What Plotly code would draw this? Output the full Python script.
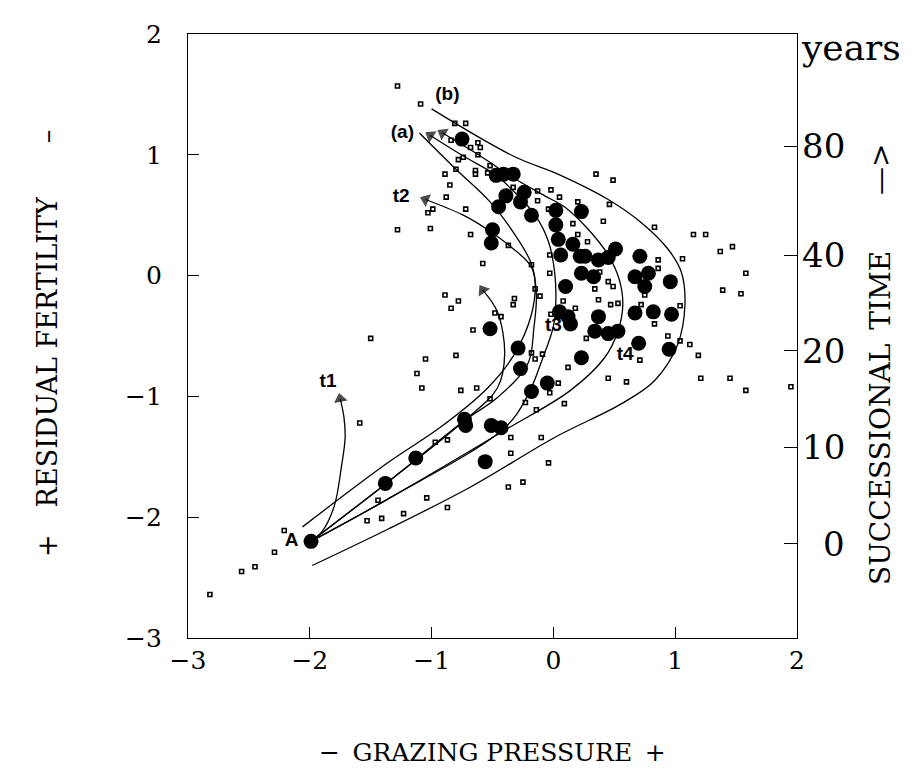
import plotly.graph_objects as go

# ---------------- data ----------------
# large filled circles (relevés)
big_x = [-1.99, -1.38, -1.13, -0.73, -0.72, -0.56, -0.51, -0.43, -0.29, -0.27, -0.18, -0.05, -0.52,
         -0.75, -0.47, -0.41, -0.33, -0.39, -0.45, -0.24, -0.27, -0.18, -0.50, -0.51,
         0.02, 0.02, 0.04, 0.23, 0.16, 0.06, 0.22, 0.26, 0.37, 0.45, 0.51, 0.71,
         0.23, 0.33, 0.67, 0.78, 0.75, 0.96, 0.10, 0.05, 0.12, 0.14, 0.37, 0.34,
         0.45, 0.53, 0.67, 0.82, 0.97, 0.70, 0.95, 0.23]
big_y = [-2.20, -1.72, -1.51, -1.19, -1.24, -1.54, -1.24, -1.26, -0.60, -0.77, -0.96, -0.89, -0.44,
         1.13, 0.83, 0.84, 0.84, 0.66, 0.57, 0.69, 0.61, 0.50, 0.38, 0.27,
         0.54, 0.42, 0.30, 0.53, 0.26, 0.17, 0.16, 0.16, 0.13, 0.15, 0.22, 0.16,
         0.02, -0.01, -0.01, 0.02, -0.09, -0.05, -0.09, -0.30, -0.34, -0.40, -0.34, -0.46,
         -0.48, -0.46, -0.31, -0.30, -0.32, -0.56, -0.61, -0.68]

# small squares
small_x = [-1.28, -1.09, -0.81, -0.72, -0.84, -0.62, -0.60, -0.68, -0.74, -0.62, -0.78, -0.52, -0.64,
           -0.80, -0.64, -0.89, -0.54, -0.85, -0.88, -0.99, -1.03, -0.72, -1.28, -1.01, -0.68, -0.58,
           -0.37, -0.33, -0.13, -0.13, -0.02, -0.04, -0.18, -0.03, -0.15, 0.35, 0.49, 0.05, 0.20,
           0.46, 0.16, 0.41, 0.83, 1.15, 1.25, 0.28, 0.20, 1.37, 1.47, -0.03, 0.86, 1.06, 1.58,
           0.86, 0.38, 0.45, 0.49, 0.34, 1.39, 1.54, 0.08, 0.37, 0.53, 0.47, 0.72, -0.32, -0.11,
           -0.33, 0.18, -0.02, 0.75, 1.04, 0.83, 0.27, 0.94, 1.04, 1.12, 1.19, 0.71, 0.12, -0.09,
           -0.15, -0.18, 0.04, 0.45, 0.60, 1.21, 1.45, 1.58, 1.95, -0.03, -0.23, 0.09, -0.14,
           -0.89, -0.78, -0.84, -0.48, -0.43, -0.66, -0.80, -1.05, -1.12, -1.08, -0.76, -0.63,
           -0.52, -0.97, -0.87, -0.35, -0.35, -0.10, -0.04, -0.37, -0.25, -1.04, -0.87, -1.23,
           -1.50, -1.59, -1.44, -1.41, -1.53, -2.21, -2.29, -2.45, -2.56, -2.82]
small_y = [1.57, 1.42, 1.26, 1.26, 1.12, 1.10, 1.06, 1.06, 0.98, 1.00, 0.96, 0.91, 0.87,
           0.88, 0.84, 0.84, 0.85, 0.75, 0.65, 0.55, 0.52, 0.55, 0.38, 0.39, 0.34, 0.10,
           0.25, 0.73, 0.70, 0.62, 0.71, 0.55, 0.09, 0.02, -0.11, 0.84, 0.79, 0.65, 0.61,
           0.59, 0.43, 0.45, 0.40, 0.34, 0.34, 0.28, 0.34, 0.20, 0.24, 0.17, 0.13, 0.14, 0.02,
           0.06, 0.03, -0.05, -0.09, -0.11, -0.12, -0.15, -0.21, -0.20, -0.23, -0.24, -0.24, -0.19, -0.17,
           -0.24, -0.27, -0.32, -0.16, -0.25, -0.40, -0.52, -0.50, -0.54, -0.57, -0.66, -0.70, -0.76, -0.65,
           -0.69, -0.64, -0.89, -0.85, -0.88, -0.85, -0.85, -0.95, -0.92, -0.97, -1.05, -1.06, -1.11,
           -0.16, -0.21, -0.27, -0.31, -0.34, -0.45, -0.66, -0.69, -0.81, -0.93, -0.95, -0.93,
           -1.02, -1.38, -1.36, -1.34, -1.47, -1.34, -1.55, -1.75, -1.71, -1.84, -1.92, -1.97,
           -0.52, -1.22, -1.86, -2.01, -2.03, -2.11, -2.29, -2.41, -2.45, -2.64]

# envelope curves
env_inner_x = [-2.06, -1.36, -0.92, -0.54, -0.32, -0.18, -0.15, -0.19, -0.33, -0.52, -0.80, -1.10]
env_inner_y = [-2.08, -1.55, -1.25, -0.93, -0.65, -0.32, -0.05, 0.12, 0.36, 0.61, 0.88, 1.18]
env_outer_x = [-1.98, -1.36, -0.68, 0.01, 0.56, 0.83, 1.02, 1.08, 1.05, 0.94, 0.72, 0.45, 0.06, -0.33, -1.00]
env_outer_y = [-2.40, -2.10, -1.75, -1.34, -1.06, -0.87, -0.57, -0.24, 0.03, 0.22, 0.44, 0.63, 0.83, 0.99, 1.38]

# successional trajectories starting at A
traj_c1_x = [-1.99, -1.36, -0.73, -0.46, -0.40, -0.46, -0.58]
traj_c1_y = [-2.20, -1.71, -1.20, -0.93, -0.65, -0.30, -0.12]
traj_t1_x = [-1.99, -1.90, -1.80, -1.74, -1.71, -1.72, -1.75]
traj_t1_y = [-2.20, -2.12, -1.91, -1.58, -1.34, -1.17, -1.02]
traj_t2_x = [-1.99, -1.36, -0.73, -0.46, -0.21, -0.16, -0.14, -0.18, -0.34, -0.54, -0.74, -1.05]
traj_t2_y = [-2.20, -1.71, -1.20, -1.01, -0.73, -0.43, -0.16, 0.07, 0.23, 0.38, 0.50, 0.63]
traj_t3_x = [-1.99, -1.36, -0.40, -0.21, -0.09, 0.00, 0.02, 0.01, -0.04, -0.15, -0.33, -0.47, -0.74, -1.01]
traj_t3_y = [-2.20, -1.85, -1.26, -0.99, -0.69, -0.42, -0.21, 0.03, 0.28, 0.50, 0.70, 0.83, 0.99, 1.16]
traj_t4_x = [-1.99, -1.36, -0.40, 0.14, 0.42, 0.53, 0.57, 0.54, 0.45, 0.28, 0.09, -0.07, -0.33, -0.60, -0.91]
traj_t4_y = [-2.20, -1.85, -1.28, -0.95, -0.68, -0.46, -0.24, -0.03, 0.17, 0.39, 0.57, 0.66, 0.81, 0.99, 1.18]

# text labels in the plot
label_text = ["A", "t1", "t2", "t3", "t4", "(a)", "(b)"]
label_x = [-2.15, -1.85, -1.25, 0.00, 0.59, -1.24, -0.87]
label_y = [-2.20, -0.88, 0.65, -0.42, -0.66, 1.18, 1.49]

# axes
xy_ticks = [-3, -2, -1, 0, 1, 2]
time_tick_text = ["80", "40", "20", "10", "0"]
time_tick_pos = [1.07, 0.17, -0.62, -1.42, -2.22]

SERIF = "DejaVu Serif"
SANS = "Liberation Sans"

fig = go.Figure()

line_style = dict(color="black", width=1.3, shape="spline", smoothing=1.0)

for xs, ys in [(env_inner_x, env_inner_y), (env_outer_x, env_outer_y)]:
    fig.add_trace(go.Scatter(x=xs, y=ys, mode="lines", line=line_style,
                             showlegend=False, hoverinfo="skip"))

for xs, ys in [(traj_c1_x, traj_c1_y), (traj_t1_x, traj_t1_y), (traj_t2_x, traj_t2_y),
               (traj_t3_x, traj_t3_y), (traj_t4_x, traj_t4_y)]:
    n = len(xs)
    fig.add_trace(go.Scatter(
        x=xs, y=ys, mode="lines+markers", line=line_style,
        marker=dict(symbol="triangle-up", angleref="previous",
                    size=[0] * (n - 1) + [12], color="black", line=dict(width=0)),
        showlegend=False, hoverinfo="skip"))

fig.add_trace(go.Scatter(x=small_x, y=small_y, mode="markers",
                         marker=dict(symbol="square-open", size=4, color="black",
                                     line=dict(width=1.6, color="black")),
                         showlegend=False, hoverinfo="skip"))

fig.add_trace(go.Scatter(x=big_x, y=big_y, mode="markers",
                         marker=dict(symbol="circle", size=15, color="black",
                                     line=dict(width=0)),
                         showlegend=False, hoverinfo="skip"))

fig.add_trace(go.Scatter(x=label_x, y=label_y, mode="text", text=label_text,
                         textfont=dict(family=SANS, size=19, color="black"),
                         texttemplate="<b>%{text}</b>",
                         showlegend=False, hoverinfo="skip"))

# right axis (successional time) - tick marks only; labels as right-aligned annotations
fig.add_trace(go.Scatter(x=[None], y=[None], yaxis="y2", showlegend=False, hoverinfo="skip"))

fig.update_layout(
    width=916, height=782,
    margin=dict(l=180, r=127, t=20, b=152),
    paper_bgcolor="white", plot_bgcolor="white",
    font=dict(family=SERIF, color="black"),
    xaxis=dict(range=[-3, 2], tickvals=xy_ticks,
               ticktext=[str(v).replace("-", "\u2212") for v in xy_ticks],
               ticks="inside", ticklen=11, tickwidth=1, tickcolor="black",
               showline=True, linecolor="black", linewidth=1.2, mirror=True,
               showgrid=False, zeroline=False, ticklabelstandoff=0,
               tickfont=dict(family=SERIF, size=25, color="black")),
    yaxis=dict(range=[-3, 2], tickvals=xy_ticks,
               ticktext=[str(v).replace("-", "\u2212") for v in xy_ticks],
               ticks="inside", ticklen=11, tickwidth=1, tickcolor="black",
               showline=True, linecolor="black", linewidth=1.2,
               showgrid=False, zeroline=False, ticklabelstandoff=20,
               tickfont=dict(family=SERIF, size=25, color="black")),
    yaxis2=dict(range=[-3, 2], overlaying="y", side="right",
                tickvals=time_tick_pos, showticklabels=False,
                ticks="inside", ticklen=13, tickwidth=1, tickcolor="black",
                showline=True, linecolor="black", linewidth=1.2,
                showgrid=False, zeroline=False),
)

for txt, pos in zip(time_tick_text, time_tick_pos):
    fig.add_annotation(x=1, y=pos, xref="paper", yref="y", xanchor="right", yanchor="middle",
                       xshift=50, showarrow=False, text=txt,
                       font=dict(family=SERIF, size=34, color="black"))

# arrow at top of right axis and 'years'
fig.add_annotation(x=2, y=2.1, xref="x", yref="y", ax=0, ay=22, showarrow=True,
                   arrowhead=1, arrowsize=1, arrowwidth=1, arrowcolor="black", text="")
fig.add_annotation(x=1, y=1.0, xref="paper", yref="paper", xanchor="left", yanchor="middle",
                   xshift=2, yshift=-13, showarrow=False, text="years",
                   font=dict(family=SERIF, size=36, color="black"))

# axis titles
fig.add_annotation(x=0.5, y=0, xref="paper", yref="paper", yanchor="middle",
                   yshift=-114, showarrow=False,
                   text="\u2212\u2002GRAZING PRESSURE\u2002+",
                   font=dict(family=SERIF, size=25, color="black"))
fig.add_annotation(x=0, y=0.5, xref="paper", yref="paper", xanchor="center",
                   xshift=-141, yshift=-8, showarrow=False, textangle=-90,
                   text="+\u2003RESIDUAL FERTILITY\u2003\u2003\u2013",
                   font=dict(family=SERIF, size=27, color="black"))
fig.add_annotation(x=1, y=0.5, xref="paper", yref="paper", xanchor="center",
                   xshift=83, yshift=-28, showarrow=False, textangle=-90,
                   text="SUCCESSIONAL\u2002TIME\u2003\u2003\u2014>",
                   font=dict(family=SERIF, size=28, color="black"))

fig.write_html("out.html")
